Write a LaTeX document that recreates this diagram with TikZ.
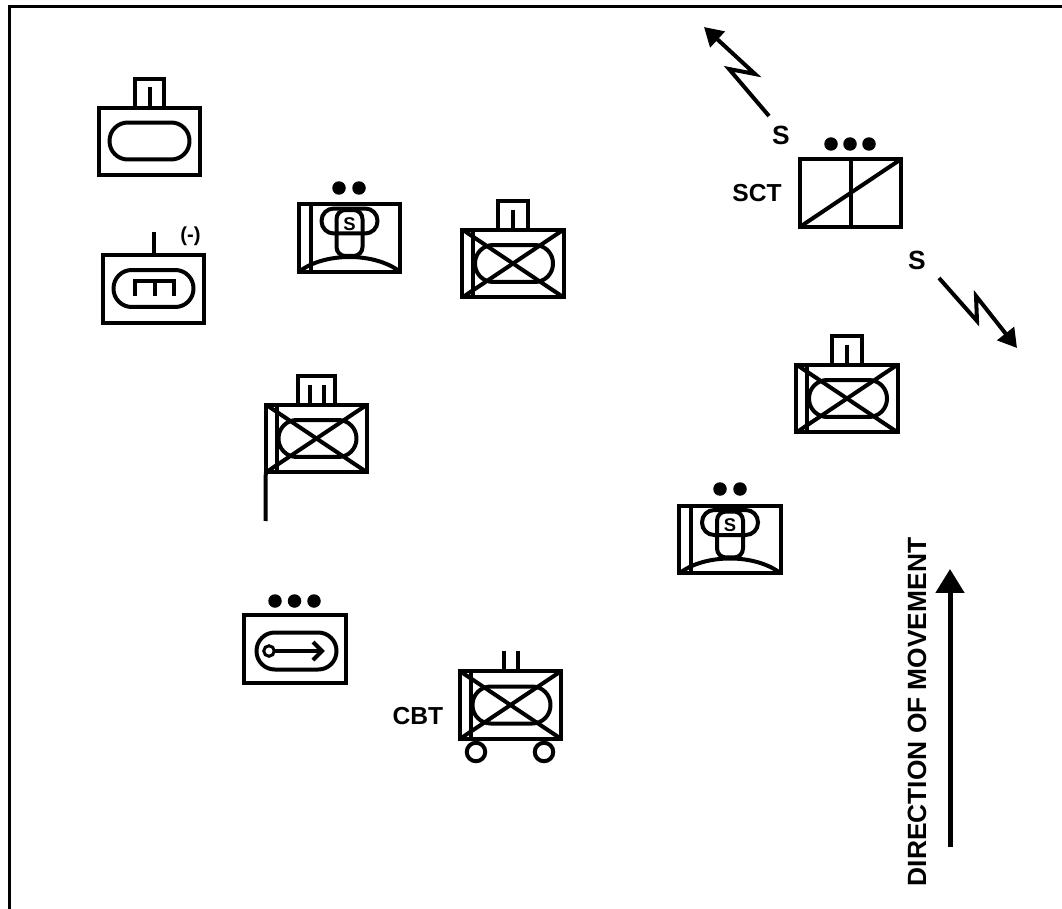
\documentclass[tikz,border=0pt]{standalone}
\usepackage{xcolor}
\usepackage{fontspec}
\setmainfont{Liberation Sans}
\usetikzlibrary{arrows.meta}

\tikzset{
  symline/.style={line width=0.08cm, line join=miter},
  unitbox/.style={draw, symline, rectangle, outer sep=0pt, inner sep=0pt, minimum width=2.03cm, minimum height=1.36cm},
  ovalbox/.style={draw, symline, rectangle, outer sep=0pt, inner sep=0pt, minimum width=1.6cm, minimum height=0.74cm, rounded corners=0.365cm},
  wideoval/.style={draw, symline, rectangle, outer sep=0pt, inner sep=0pt, minimum width=1.12cm, minimum height=0.5cm, rounded corners=0.245cm},
  talloval/.style={draw, symline, rectangle, outer sep=0pt, inner sep=0pt, minimum width=0.52cm, minimum height=0.92cm, rounded corners=0.18cm},
  tabbox/.style={draw, symline, rectangle, outer sep=0pt, inner sep=0pt, minimum width=0.6cm, minimum height=0.58cm},
  widetab/.style={tabbox, minimum width=0.76cm},
  dot/.style={fill=black, circle, inner sep=0pt, minimum size=0.27cm},
  wheel/.style={draw, symline, circle, inner sep=0pt, outer sep=0pt, minimum size=0.37cm},
  pivot/.style={draw, line width=0.06cm, circle, fill=white, inner sep=0pt, outer sep=0pt, minimum size=0.21cm},
  lbl/.style={font=\fontsize{15}{17}\selectfont\bfseries, inner sep=0pt},
  taglbl/.style={font=\fontsize{14}{16}\selectfont\bfseries, inner sep=0pt},
  smalllbl/.style={font=\fontsize{10.5}{12}\selectfont\bfseries, inner sep=0pt},
  armorbox/.pic={
    \node [unitbox] (-box) at (0, 0) {};
    \node [ovalbox, minimum width=1.56cm] (-oval) at (1, 0) {};
    \draw [symline] (-box.north west) to (-box.south east);
    \draw [symline] (-box.south west) to (-box.north east);
    \draw [symline] ([xshift=0.22cm]-box.north west) to ([xshift=0.22cm]-box.south west);
  },
  reconbox/.pic={
    \node [unitbox] (-box) at (0, 0) {};
    \node [wideoval] (-wide) at (0, -17) {};
    \node [talloval] (-tall) at (0, -5) {};
    \node [smalllbl] (-s) at (0, -14) {S};
    \draw [symline] ([xshift=0.24cm]-box.north west) to ([xshift=0.24cm]-box.south west);
    \draw [symline] (-box.south west) .. controls +(25, -20) and +(-25, -20) .. (-box.south east);
  },
}

\begin{document}
\begin{tikzpicture}[x=0.02cm, y=-0.02cm]
    \useasboundingbox (0, 0) rectangle (1062, 909);

    \coordinate (FrameTR) at (1062, 6.5);
    \coordinate (FrameTL) at (9.5, 6.5);
    \coordinate (FrameBL) at (9.5, 909);
    \draw [line width=0.06cm] (FrameTR) to (FrameTL) to (FrameBL);

    % armor, top left
    \node [unitbox] (ArmA) at (149.5, 141.5) {};
    \node [ovalbox] (ArmAOval) at (149.5, 141) {};
    \node [tabbox, anchor=south] (ArmATab) at (ArmA.north) {};
    \draw [symline] (ArmA.north) to +(0, -21);

    % engineers
    \node [unitbox] (Eng) at (153.5, 289) {};
    \node [ovalbox] (EngOval) at (153.5, 288.5) {};
    \node [smalllbl, font=\fontsize{11.5}{13}\selectfont\bfseries] (EngTag) at (190.5, 236) {(-)};
    \coordinate (EngTop) at (153.5, 232);
    \coordinate (EngBarL) at (135, 281);
    \coordinate (EngBarR) at (174, 281);
    \draw [symline] (Eng.north) to (EngTop);
    \draw [symline] (135, 296) to (EngBarL) to (EngBarR) to (174, 296);
    \draw [symline] (154.5, 281) to (154.5, 296);

    % recon
    \pic (ReconA) at (349.5, 238) {reconbox};
    \node [dot] (ReconADot1) at (339, 188) {};
    \node [dot] (ReconADot2) at (359, 188) {};

    \pic (ReconB) at (730, 539.5) {reconbox};
    \node [dot] (ReconBDot1) at (720, 489) {};
    \node [dot] (ReconBDot2) at (740, 489) {};

    % mech infantry
    \pic (MechA) at (513, 263.5) {armorbox};
    \node [tabbox, anchor=south] (MechATab) at (MechA-box.north) {};
    \draw [symline] (MechA-box.north) to +(0, -20);

    \pic (MechB) at (316.5, 438.5) {armorbox};
    \node [widetab, anchor=south] (MechBTab) at (MechB-box.north) {};
    \draw [symline] ([xshift=-0.14cm]MechB-box.north) to +(0, -20);
    \draw [symline] ([xshift=0.14cm]MechB-box.north) to +(0, -20);
    \coordinate (FlagEnd) at (265.5, 521);
    \draw [symline] (MechB-box.south west) to (FlagEnd);

    \pic (MechC) at (847, 398.5) {armorbox};
    \node [tabbox, anchor=south] (MechCTab) at (MechC-box.north) {};
    \draw [symline] (MechC-box.north) to +(0, -20);

    \pic (MechD) at (510.5, 705) {armorbox};
    \draw [symline] ([xshift=-0.14cm]MechD-box.north) to +(0, -20);
    \draw [symline] ([xshift=0.14cm]MechD-box.north) to +(0, -20);
    \node [wheel] (MechDWheel1) at (476, 752) {};
    \node [wheel] (MechDWheel2) at (544, 752) {};
    \node [taglbl] (MechDTag) at (418, 716.5) {CBT};

    % field artillery
    \node [unitbox] (Arty) at (295, 649) {};
    \node [ovalbox] (ArtyOval) at (296.5, 651) {};
    \node [pivot] (ArtyPivot) at (269, 651) {};
    \coordinate (ArtyTip) at (322, 651);
    \coordinate (ArtyBarb1) at (313, 642);
    \coordinate (ArtyBarb2) at (313, 660);
    \draw [symline] (ArtyPivot) to (ArtyTip);
    \draw [symline] (ArtyBarb1) to (ArtyTip) to (ArtyBarb2);
    \node [dot] (ArtyDot1) at (275, 601) {};
    \node [dot] (ArtyDot2) at (294.5, 601) {};
    \node [dot] (ArtyDot3) at (314, 601) {};

    % scouts
    \node [unitbox] (Sct) at (850.5, 193) {};
    \draw [symline] (Sct.north) to (Sct.south);
    \draw [symline] (Sct.south west) to (Sct.north east);
    \node [dot] (SctDot1) at (831, 144) {};
    \node [dot] (SctDot2) at (850, 144) {};
    \node [dot] (SctDot3) at (869, 144) {};
    \node [taglbl] (SctTag) at (757, 193.5) {SCT};

    % radio links
    \node [lbl] (LinkATag) at (781, 135) {S};
    \coordinate (LinkA0) at (769, 116);
    \coordinate (LinkA1) at (729, 69);
    \coordinate (LinkA2) at (755, 74);
    \coordinate (LinkA3) at (704, 27);
    \draw [symline, -{Triangle[length=0.37cm, width=0.42cm]}] (LinkA0) to (LinkA1) to (LinkA2) to (LinkA3);

    \node [lbl] (LinkBTag) at (917, 260) {S};
    \coordinate (LinkB0) at (939, 278);
    \coordinate (LinkB1) at (977, 321);
    \coordinate (LinkB2) at (976, 296);
    \coordinate (LinkB3) at (1017, 348);
    \draw [symline, -{Triangle[length=0.37cm, width=0.42cm]}] (LinkB0) to (LinkB1) to (LinkB2) to (LinkB3);

    % movement arrow
    \coordinate (MoveTail) at (950, 847);
    \coordinate (MoveTip) at (950, 569);
    \draw [line width=0.1cm, -{Triangle[length=0.48cm, width=0.56cm]}] (MoveTail) to (MoveTip);
    \node [lbl, rotate=90] (MoveTag) at (917, 712) {DIRECTION OF MOVEMENT};
\end{tikzpicture}
\end{document}
